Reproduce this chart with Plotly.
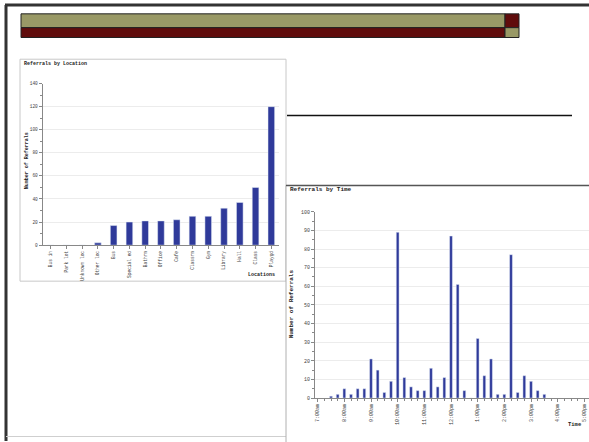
import plotly.graph_objects as go

# ---------------- data ----------------
locations = ["Bus in", "Park lot", "Unknown loc", "Other loc", "Bus", "Special ed",
             "Bathrm", "Office", "Cafe", "Classrm", "Gym", "Library", "Hall", "Class", "Playgd"]
location_counts = [0, 0, 0, 2, 17, 20, 21, 21, 22, 25, 25, 32, 37, 50, 120]

time_slots = ["07:30", "07:45", "08:00", "08:15", "08:30", "08:45", "09:00", "09:15",
              "09:30", "09:45", "10:00", "10:15", "10:30", "10:45", "11:00", "11:15",
              "11:30", "11:45", "12:00", "12:15", "12:30", "12:45", "13:00", "13:15",
              "13:30", "13:45", "14:00", "14:15", "14:30", "14:45", "15:00", "15:15", "15:30"]
time_counts = [1, 2, 5, 2, 5, 5, 21, 15, 3, 9, 89, 11, 6, 4, 4, 16, 6, 11, 87, 61, 4, 0,
               32, 12, 21, 2, 2, 77, 3, 12, 9, 4, 2]

hour_ticks = ["07:00", "08:00", "09:00", "10:00", "11:00", "12:00", "13:00", "14:00",
              "15:00", "16:00", "17:00"]
hour_labels = ["7:00am", "8:00am", "9:00am", "10:00am", "11:00am", "12:00pm", "1:00pm",
               "2:00pm", "3:00pm", "4:00pm", "5:00pm"]

DAY = "2000-01-01 "
W, H = 589, 442
BAR = "#2f3a9a"
FONT = "Liberation Mono"


def X(px):
    return px / W


def Y(py):
    return 1 - py / H


fig = go.Figure()

fig.add_trace(go.Bar(x=locations, y=location_counts, marker_color=BAR, width=0.42,
                     xaxis="x", yaxis="y", showlegend=False))
fig.add_trace(go.Bar(x=[DAY + t for t in time_slots], y=time_counts, marker_color=BAR,
                     width=15 * 60 * 1000 * 0.42, xaxis="x2", yaxis="y2", showlegend=False))

axis_common = dict(showline=True, linecolor="#888", linewidth=1, ticks="outside",
                   tickcolor="#888", ticklen=3, zeroline=False)

shapes = []


def rect(x0, y0, x1, y1, fill, line="#222", lw=1, layer="below"):
    shapes.append(dict(type="rect", xref="paper", yref="paper", x0=X(x0), x1=X(x1),
                       y0=Y(y1), y1=Y(y0), fillcolor=fill,
                       line=dict(color=line, width=lw), layer=layer))


def line(x0, y0, x1, y1, color, lw, layer="below"):
    shapes.append(dict(type="line", xref="paper", yref="paper", x0=X(x0), x1=X(x1),
                       y0=Y(y0), y1=Y(y1), line=dict(color=color, width=lw), layer=layer))


# page frame
line(5, 3, 600, 3, "#333", 3)
line(6, 3, 6, 445, "#333", 3)
line(6, 440.5, 600, 440.5, "#cfcfcf", 1)
# header bars
rect(21, 12, 505, 26, "#999966")
rect(505, 12, 519, 26, "#600c0c")
rect(21, 26, 505, 36, "#600c0c")
rect(505, 26, 519, 36, "#999966")
# panels
rect(20, 58, 286, 283, "white", line="#c8c8c8", lw=1)
line(287, 115, 572, 115, "#111", 1.5)
rect(286, 186, 600, 450, "white", line="#b0b0b0", lw=1)
line(286, 186, 600, 186, "#555", 1.5)

annotations = [
    dict(text="<b>Referrals by Location</b>", x=X(22), y=Y(63), xanchor="left",
         yanchor="middle", font=dict(family=FONT, size=5, color="#222")),
    dict(text="<b>Referrals by Time</b>", x=X(288), y=Y(190.5), xanchor="left",
         yanchor="middle", font=dict(family=FONT, size=6, color="#222")),
    dict(text="<b>Number of Referrals</b>", x=X(26.5), y=Y(161), textangle=-90,
         xanchor="center", yanchor="middle", font=dict(family=FONT, size=5, color="#222")),
    dict(text="<b>Number of Referrals</b>", x=X(291.5), y=Y(306), textangle=-90,
         xanchor="center", yanchor="middle", font=dict(family=FONT, size=6, color="#222")),
    dict(text="<b>Locations</b>", x=X(277), y=Y(277), xanchor="right", yanchor="middle",
         font=dict(family=FONT, size=5, color="#222")),
    dict(text="<b>Time</b>", x=X(584), y=Y(428), xanchor="right", yanchor="middle",
         font=dict(family=FONT, size=5.5, color="#222")),
]
for a in annotations:
    a.update(xref="paper", yref="paper", showarrow=False)

fig.update_layout(
    width=W, height=H, autosize=False,
    margin=dict(l=0, r=0, t=0, b=0),
    paper_bgcolor="white", plot_bgcolor="rgba(0,0,0,0)",
    font=dict(family=FONT, color="#444"),
    shapes=shapes, annotations=annotations, bargap=0.5,
    xaxis=dict(domain=[X(42.7), X(279.2)], anchor="y", type="category",
               range=[-0.5, 14.5], tickangle=-90, tickfont=dict(size=4.5),
               showgrid=False, **axis_common),
    yaxis=dict(domain=[Y(246.5), Y(82.7)], anchor="x", range=[0, 140], dtick=20,
               tickfont=dict(size=4.5), showgrid=True, gridcolor="#ececec", gridwidth=1,
               minor=dict(dtick=10, ticks="outside", ticklen=2, tickcolor="#888",
                          showgrid=False),
               **axis_common),
    xaxis2=dict(domain=[X(315), 1.0], anchor="y2", type="date",
                range=[DAY + "06:54:00", DAY + "17:10:30"],
                tickvals=[DAY + t for t in hour_ticks], ticktext=hour_labels,
                tickangle=-90, tickfont=dict(size=5), showgrid=False,
                minor=dict(dtick=15 * 60 * 1000, ticks="outside", ticklen=2,
                           tickcolor="#888", showgrid=False),
                **axis_common),
    yaxis2=dict(domain=[Y(401.5), Y(212.7)], anchor="x2", range=[0, 100], dtick=10,
                tickfont=dict(size=5), showgrid=True, gridcolor="#ececec", gridwidth=1,
                minor=dict(dtick=5, ticks="outside", ticklen=2, tickcolor="#888",
                           showgrid=False),
                **axis_common),
)

fig.write_html("out.html", config={"displayModeBar": False},
               post_script="document.body.style.margin='0';document.body.style.overflow='hidden';")
